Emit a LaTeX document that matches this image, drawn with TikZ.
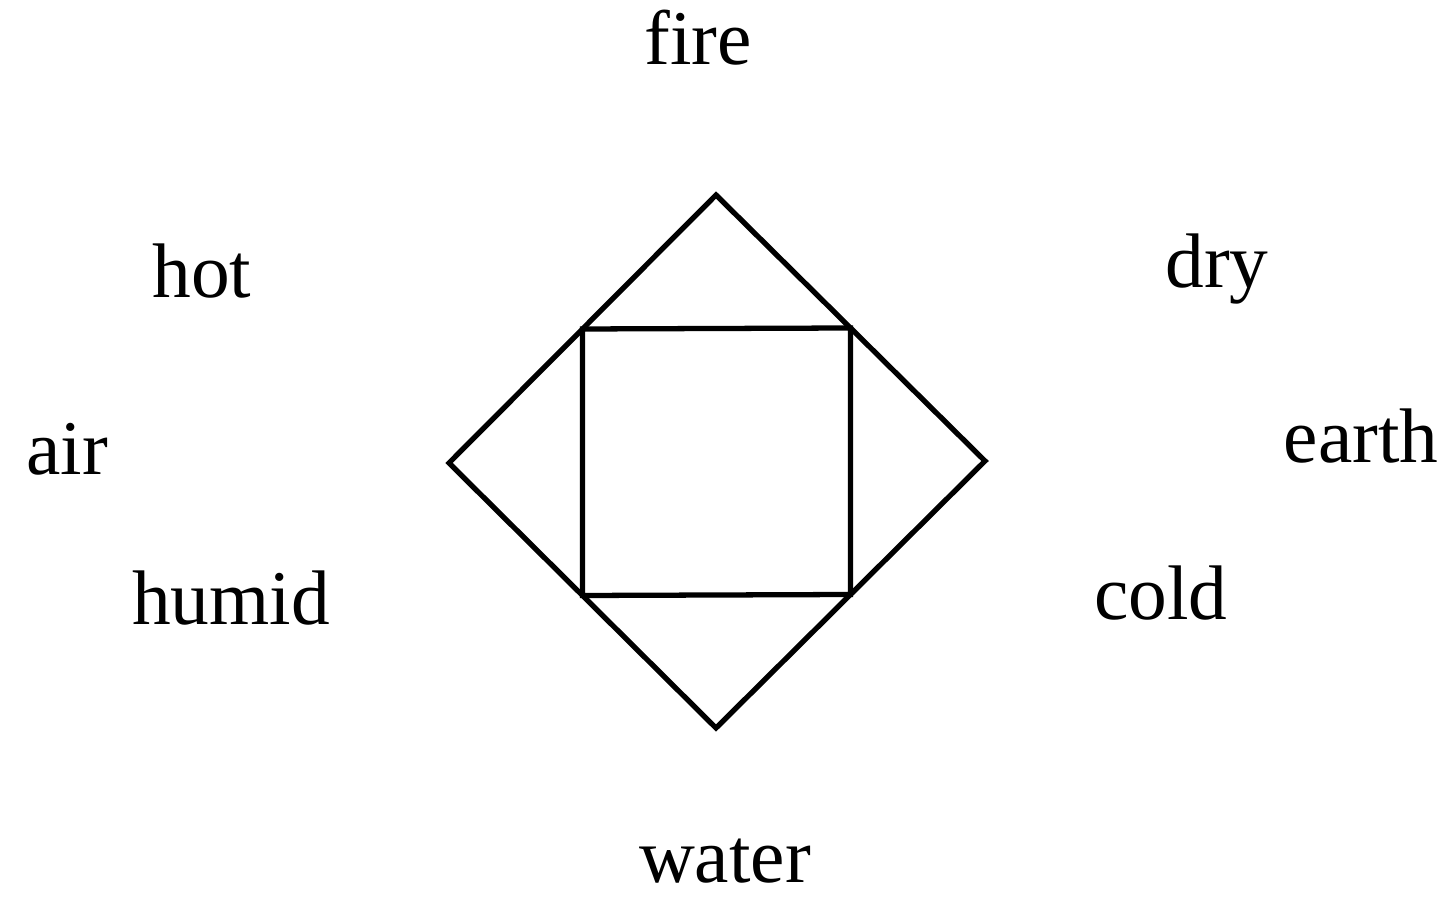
\documentclass[tikz,border=0pt]{standalone}
\usepackage{fontspec}
\setmainfont{Liberation Serif}
\usepackage{tikz}
\usetikzlibrary{calc}

\begin{document}
\begin{tikzpicture}[
  x=0.01cm, y=0.01cm,
  etiqueta/.style={anchor=base, inner sep=0pt, font=\fontsize{22}{26}\selectfont},
  borde/.style={line width=1.5pt, line join=miter, black}
]
\useasboundingbox (0,0) rectangle (1449,897);

% rombo exterior
\coordinate (arriba) at (716,702);
\coordinate (derecha) at (985,436);
\coordinate (abajo) at (716,169);
\coordinate (izquierda) at (449,434);

% cuadrado interior en los puntos medios
\coordinate (c1) at ($(arriba)!0.5!(izquierda)$);
\coordinate (c2) at ($(arriba)!0.5!(derecha)$);
\coordinate (c3) at ($(abajo)!0.5!(derecha)$);
\coordinate (c4) at ($(abajo)!0.5!(izquierda)$);

\draw[borde] (arriba) -- (derecha) -- (abajo) -- (izquierda) -- cycle;
\draw[borde] (c1) -- (c2) -- (c3) -- (c4) -- cycle;

\node[etiqueta] (fire) at (698,832) {fire};
\node[etiqueta] (water) at (725,15) {water};
\node[etiqueta] (air) at (67,422) {air};
\node[etiqueta] (earth) at (1361,434) {earth};
\node[etiqueta] (hot) at (202,599) {hot};
\node[etiqueta] (dry) at (1217,609) {dry};
\node[etiqueta] (humid) at (231,272) {humid};
\node[etiqueta] (cold) at (1161,277) {cold};
\end{tikzpicture}
\end{document}
